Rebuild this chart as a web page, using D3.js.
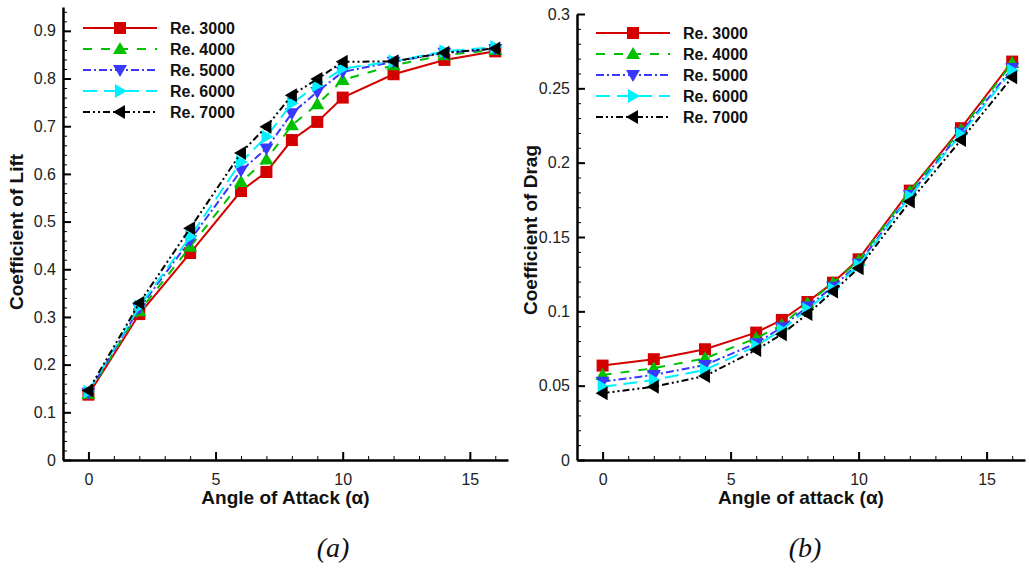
<!DOCTYPE html>
<html lang="en">
<head>
<meta charset="utf-8">
<style>
  body { margin: 0; background: #fff; }
  text { font-family: "Liberation Sans", Arial, sans-serif; }
  .tick text { font-size: 16px; fill: #222; }
  .axis-title { font-size: 19px; font-weight: bold; fill: #111; }
  .legend text { font-size: 16px; font-weight: bold; fill: #111; }
  .caption { font-family: "Liberation Serif", "Times New Roman", serif; font-style: italic; font-size: 28px; fill: #111; }
</style>
<script src="https://cdn.jsdelivr.net/npm/d3@7"></script>
</head>
<body>
<svg id="chart" width="1029" height="572"></svg>
<script>
// angle of attack values (degrees)
var alpha = [0, 2, 4, 6, 7, 8, 9, 10, 12, 14, 16];
var seriesNames = ["Re. 3000", "Re. 4000", "Re. 5000", "Re. 6000", "Re. 7000"];

// lift coefficient
var lift3000 = [0.137, 0.306, 0.434, 0.564, 0.604, 0.671, 0.709, 0.760, 0.809, 0.839, 0.857];
var lift4000 = [0.139, 0.312, 0.447, 0.583, 0.630, 0.702, 0.746, 0.797, 0.828, 0.849, 0.860];
var lift5000 = [0.141, 0.318, 0.461, 0.607, 0.653, 0.727, 0.772, 0.814, 0.835, 0.854, 0.862];
var lift6000 = [0.143, 0.322, 0.468, 0.625, 0.678, 0.748, 0.786, 0.821, 0.836, 0.857, 0.866];
var lift7000 = [0.146, 0.329, 0.486, 0.644, 0.699, 0.765, 0.799, 0.835, 0.836, 0.854, 0.863];

// drag coefficient
var drag3000 = [0.0635, 0.0678, 0.0745, 0.0857, 0.0942, 0.1063, 0.1193, 0.135, 0.1812, 0.2232, 0.268];
var drag4000 = [0.0572, 0.0617, 0.0684, 0.0819, 0.0908, 0.1054, 0.1190, 0.134, 0.1806, 0.2220, 0.267];
var drag5000 = [0.0527, 0.0572, 0.0639, 0.0785, 0.0893, 0.1032, 0.1166, 0.132, 0.1783, 0.2203, 0.2636];
var drag6000 = [0.0493, 0.0538, 0.0606, 0.0767, 0.0875, 0.1014, 0.1150, 0.131, 0.1772, 0.2190, 0.262];
var drag7000 = [0.0449, 0.0493, 0.0565, 0.0740, 0.0846, 0.0982, 0.1133, 0.129, 0.1738, 0.2153, 0.2575];

var xTicks = [0, 5, 10, 15];
var liftTicks = [0, 0.1, 0.2, 0.3, 0.4, 0.5, 0.6, 0.7, 0.8, 0.9];
var dragTicks = [0, 0.05, 0.1, 0.15, 0.2, 0.25, 0.3];

var colors = ["#d40000", "#00c000", "#3838ff", "#00f0ff", "#000000"];
var dashes = [null, "9,9", "8,3,2,3", "14,7", "7,3,2,3,2,3"];
var markers = ["square", "up", "down", "right", "left"];

var svg = d3.select("#chart");

function markerPath(type) {
    if (type == "square") return "M-6,-6H6V6H-6Z";
    if (type == "up") return "M0,-7L7,5L-7,5Z";
    if (type == "down") return "M0,7L7,-5L-7,-5Z";
    if (type == "right") return "M7,0L-5,-7L-5,7Z";
    return "M-7,0L5,-7L5,7Z";
}

function drawPanel(p) {
    var x = d3.scaleLinear().domain([-1, 16.5]).range([p.left, p.right]);
    var y = d3.scaleLinear().domain(p.yDomain).range([p.bottom, p.top]);
    var g = svg.append("g");

    // minor ticks
    g.append("g")
     .attr("transform", "translate(0," + p.bottom + ")")
     .call(d3.axisBottom(x).tickValues(d3.range(0, 17, 1)).tickSizeInner(-4).tickSizeOuter(0).tickFormat(""))
     .call(function(a) { a.select(".domain").remove(); a.selectAll("line").attr("stroke-width", 1); });
    g.append("g")
     .attr("transform", "translate(" + p.left + ",0)")
     .call(d3.axisLeft(y).tickValues(p.yMinor).tickSizeInner(-4).tickSizeOuter(0).tickFormat(""))
     .call(function(a) { a.select(".domain").remove(); a.selectAll("line").attr("stroke-width", 1); });

    // major ticks + axis lines
    g.append("g")
     .attr("transform", "translate(0," + p.bottom + ")")
     .call(d3.axisBottom(x).tickValues(xTicks).tickSizeInner(-8).tickSizeOuter(0).tickPadding(14))
     .call(function(a) {
         a.select(".domain").attr("stroke-width", 2.5);
         a.selectAll(".tick line").attr("stroke-width", 2);
     });
    g.append("g")
     .attr("transform", "translate(" + p.left + ",0)")
     .call(d3.axisLeft(y).tickValues(p.yTicks).tickSizeInner(-8).tickSizeOuter(0).tickPadding(7)
            .tickFormat(function(d) { return d === 0 ? "0" : String(+d.toFixed(2)); }))
     .call(function(a) {
         a.select(".domain").attr("stroke-width", 2.5);
         a.selectAll(".tick line").attr("stroke-width", 2);
     });

    var line = d3.line()
        .x(function(d, i) { return x(alpha[i]); })
        .y(function(d) { return y(d); });

    p.series.forEach(function(vals, k) {
        g.append("path")
         .datum(vals)
         .attr("fill", "none")
         .attr("stroke", colors[k])
         .attr("stroke-width", 2)
         .attr("stroke-dasharray", dashes[k])
         .attr("d", line);
        g.selectAll(".m" + k)
         .data(vals)
         .enter().append("path")
         .attr("class", "m" + k)
         .attr("fill", colors[k])
         .attr("transform", function(d, i) { return "translate(" + x(alpha[i]) + "," + y(d) + ")"; })
         .attr("d", markerPath(markers[k]));
    });

    // legend
    var lg = g.append("g").attr("class", "legend");
    seriesNames.forEach(function(name, k) {
        var yy = p.legendY + k * 21;
        lg.append("line")
          .attr("x1", p.legendX).attr("x2", p.legendX + 74)
          .attr("y1", yy).attr("y2", yy)
          .attr("stroke", colors[k]).attr("stroke-width", 2)
          .attr("stroke-dasharray", dashes[k]);
        lg.append("path")
          .attr("fill", colors[k])
          .attr("transform", "translate(" + (p.legendX + 37) + "," + yy + ")")
          .attr("d", markerPath(markers[k]));
        lg.append("text")
          .attr("x", p.legendX + 87).attr("y", yy + 6)
          .text(name);
    });

    // titles
    g.append("text").attr("class", "axis-title")
     .attr("x", (p.left + p.right) / 2).attr("y", p.bottom + 44)
     .attr("text-anchor", "middle").text(p.xTitle);
    g.append("text").attr("class", "axis-title")
     .attr("transform", "translate(" + p.yTitleX + "," + p.yTitleY + ") rotate(-90)")
     .attr("text-anchor", "middle").text(p.yTitle);
    g.append("text").attr("class", "caption")
     .attr("x", p.captionX).attr("y", 557)
     .attr("text-anchor", "middle").text(p.caption);
}

drawPanel({
    left: 63, right: 508, top: 7, bottom: 460,
    yDomain: [0, 0.95], yTicks: liftTicks, yMinor: d3.range(0, 0.95, 0.02),
    series: [lift3000, lift4000, lift5000, lift6000, lift7000],
    legendX: 83, legendY: 28,
    xTitle: "Angle of Attack (\u03b1)", yTitle: "Coefficient of Lift", yTitleX: 23, yTitleY: 232,
    caption: "(a)", captionX: 333
});

drawPanel({
    left: 577, right: 1025, top: 14, bottom: 460,
    yDomain: [0, 0.3], yTicks: dragTicks, yMinor: d3.range(0, 0.301, 0.01),
    series: [drag3000, drag4000, drag5000, drag6000, drag7000],
    legendX: 596, legendY: 33,
    xTitle: "Angle of attack (\u03b1)", yTitle: "Coefficient of Drag", yTitleX: 537, yTitleY: 230,
    caption: "(b)", captionX: 805
});
</script>
</body>
</html>
